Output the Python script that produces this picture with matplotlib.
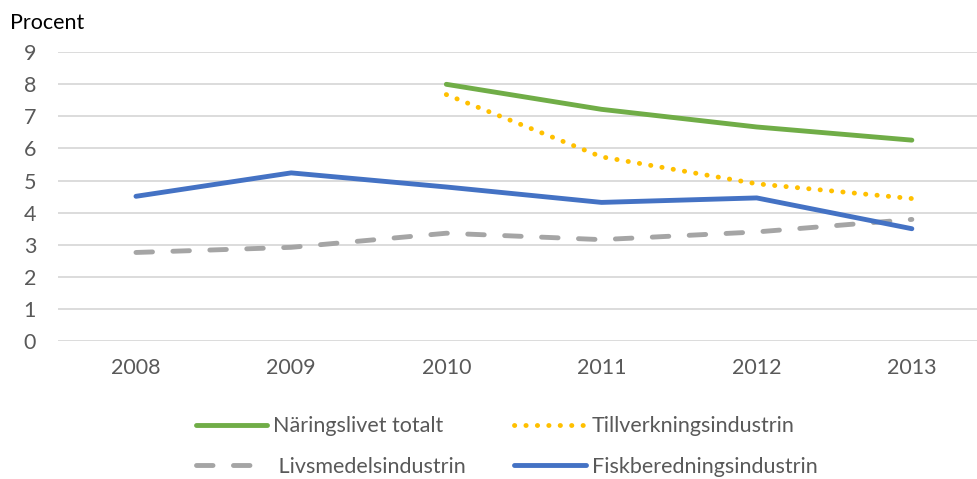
import numpy as np
import matplotlib.pyplot as plt

# Data
years = ["2008", "2009", "2010", "2011", "2012", "2013"]
naringslivet = [np.nan, np.nan, 8.0, 7.22, 6.67, 6.26]
tillverkning = [np.nan, np.nan, 7.68, 5.74, 4.9, 4.44]
livsmedel = [2.76, 2.92, 3.36, 3.16, 3.4, 3.79]
fisk = [4.51, 5.24, 4.8, 4.32, 4.46, 3.5]

plt.rcParams['font.family'] = ['Lato', 'DejaVu Sans']
fs = 15.5

fig = plt.figure(figsize=(9.78, 4.79), dpi=100)
ax = fig.add_axes([0.0597, 0.288, 0.952, 0.603])

x = np.arange(len(years))
lw = 3.5

ax.plot(x, naringslivet, color='#70AD47', lw=lw, solid_capstyle='round',
        solid_joinstyle='round', label='Näringslivet totalt')
ax.plot(x, tillverkning, color='#FFC000', lw=lw, dash_capstyle='round',
        dashes=(0.05, 2.3), label='Tillverkningsindustrin')
ax.plot(x, livsmedel, color='#A5A5A5', lw=lw, dash_capstyle='round',
        dashes=(3.4, 4.2), label=' Livsmedelsindustrin')
ax.plot(x, fisk, color='#4472C4', lw=lw, solid_capstyle='round',
        solid_joinstyle='round', label='Fiskberedningsindustrin')

ax.set_xlim(-0.5, 5.5)
ax.set_ylim(0, 9)
ax.set_yticks(range(0, 10))
ax.set_xticks(x)
ax.set_xticklabels(years)
ax.grid(axis='y', color='#D9D9D9', lw=1.3)
ax.set_axisbelow(True)
for s in ax.spines.values():
    s.set_visible(False)
ax.tick_params(length=0, labelsize=fs, colors='#595959')
ax.tick_params(axis='y', pad=16)
ax.tick_params(axis='x', pad=12)

fig.text(0.0102, 0.952, 'Procent', fontsize=fs, color='black', va='center')

# legend: two columns, second row close to the bottom edge as in the reference
h, l = ax.get_legend_handles_labels()
order = [0, 2, 1, 3]
fig.legend([h[i] for i in order], [l[i] for i in order], ncol=2,
           loc='center left', bbox_to_anchor=(0.1892, 0.068), frameon=False,
           fontsize=fs, labelcolor='#595959', handlelength=3.3,
           handletextpad=0.3, columnspacing=2.25, labelspacing=0.95,
           borderpad=0)

fig.savefig('out.png', dpi=100)
